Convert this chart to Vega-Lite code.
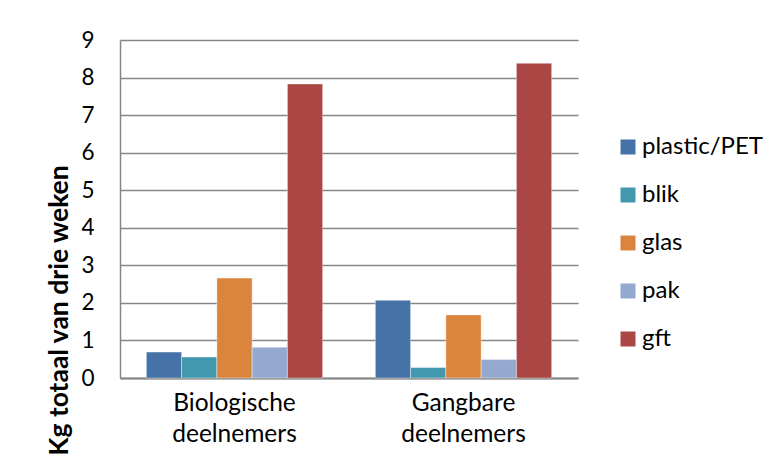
{
  "$schema": "https://vega.github.io/schema/vega-lite/v6.json",
  "width": 458,
  "height": 338,
  "autosize": "none",
  "padding": {"left": 120, "top": 40, "right": 199, "bottom": 94},
  "background": "white",
  "data": {
    "values": [
      {"groep": "Biologische deelnemers", "soort": "plastic/PET", "kg": 0.69},
      {"groep": "Biologische deelnemers", "soort": "blik", "kg": 0.56},
      {"groep": "Biologische deelnemers", "soort": "glas", "kg": 2.66},
      {"groep": "Biologische deelnemers", "soort": "pak", "kg": 0.82},
      {"groep": "Biologische deelnemers", "soort": "gft", "kg": 7.83},
      {"groep": "Gangbare deelnemers", "soort": "plastic/PET", "kg": 2.07},
      {"groep": "Gangbare deelnemers", "soort": "blik", "kg": 0.28},
      {"groep": "Gangbare deelnemers", "soort": "glas", "kg": 1.68},
      {"groep": "Gangbare deelnemers", "soort": "pak", "kg": 0.49},
      {"groep": "Gangbare deelnemers", "soort": "gft", "kg": 8.38}
    ]
  },
  "mark": {"type": "bar", "stroke": "white", "strokeWidth": 0.8, "strokeOpacity": 0.5},
  "encoding": {
    "x": {
      "field": "groep",
      "type": "nominal",
      "scale": {"paddingInner": 0.23, "paddingOuter": 0.115},
      "axis": {
        "title": null,
        "labelAngle": 0,
        "labelExpr": "split(datum.label, ' ')",
        "labelFont": "Lato",
        "labelFontSize": 24.5,
        "labelColor": "#000000",
        "labelLineHeight": 31,
        "labelPadding": 13,
        "ticks": false,
        "domainColor": "#868686",
        "domainWidth": 2
      }
    },
    "xOffset": {
      "field": "soort",
      "type": "nominal",
      "sort": ["plastic/PET", "blik", "glas", "pak", "gft"],
      "scale": {"paddingInner": 0, "paddingOuter": 0}
    },
    "y": {
      "field": "kg",
      "type": "quantitative",
      "scale": {"domain": [0, 9], "nice": false},
      "axis": {
        "title": "Kg totaal van drie weken",
        "titleFont": "Lato",
        "titleFontSize": 26.5,
        "titleFontWeight": "bold",
        "titleColor": "#000000",
        "titleX": -61,
        "titleY": 270,
        "titleAlign": "center",
        "titleBaseline": "middle",
        "values": [0, 1, 2, 3, 4, 5, 6, 7, 8, 9],
        "labelFont": "Lato",
        "labelFontSize": 22.5,
        "labelColor": "#000000",
        "labelPadding": 26,
        "ticks": false,
        "domainColor": "#868686",
        "domainWidth": 1.5,
        "gridColor": "#868686",
        "gridWidth": 1.5
      }
    },
    "color": {
      "field": "soort",
      "type": "nominal",
      "sort": ["plastic/PET", "blik", "glas", "pak", "gft"],
      "scale": {
        "domain": ["plastic/PET", "blik", "glas", "pak", "gft"],
        "range": ["#4572A7", "#4198AF", "#DB843D", "#93A9CF", "#AA4643"]
      },
      "legend": {
        "title": null,
        "orient": "none",
        "legendX": 496,
        "legendY": 95,
        "symbolType": "square",
        "symbolSize": 225,
        "symbolStrokeWidth": 0,
        "labelFont": "Lato",
        "labelFontSize": 24,
        "labelColor": "#000000",
        "labelOffset": 2,
        "rowPadding": 24
      }
    }
  },
  "config": {
    "view": {"stroke": null}
  }
}
